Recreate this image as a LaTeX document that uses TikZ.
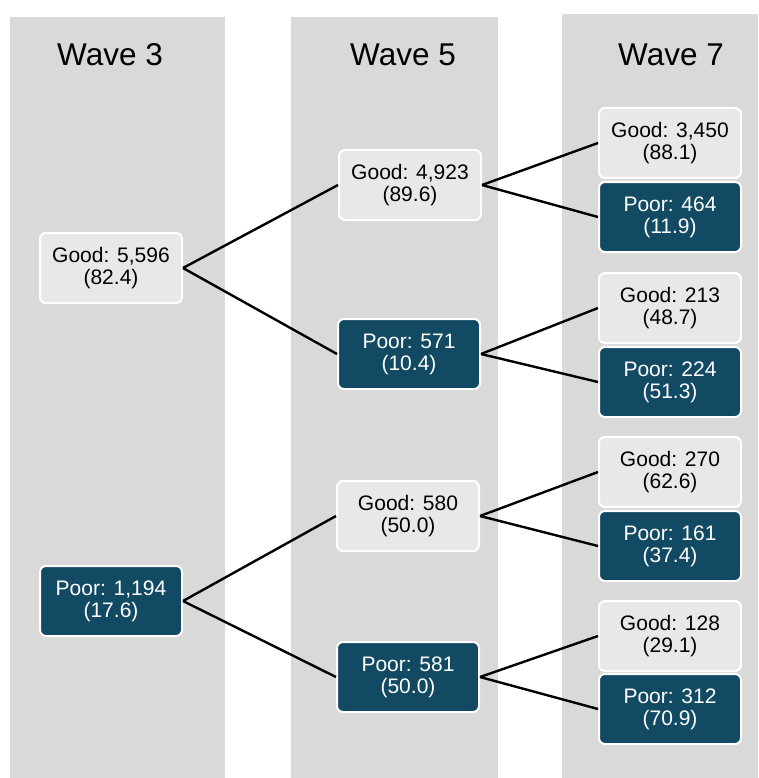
\documentclass[tikz,border=0pt]{standalone}
\usepackage{fontspec}
\setmainfont{Liberation Sans}
\definecolor{panel}{RGB}{217,217,217}
\definecolor{goodfill}{RGB}{232,232,232}
\definecolor{poorfill}{RGB}{18,74,99}
\tikzset{
  panelbox/.style={fill=panel, draw=none},
  wavetitle/.style={font=\fontsize{31.5}{34}\selectfont, text=black},
  goodbox/.style={draw=white, line width=2pt, fill=goodfill, rounded corners=6pt,
    minimum width=142pt, minimum height=70pt, align=center, inner sep=0pt,
    font=\fontsize{21}{22}\selectfont, text=black},
  poorbox/.style={goodbox, fill=poorfill, text=white},
  link/.style={draw=black, line width=2.4pt}
}
\begin{document}
\begin{tikzpicture}[x=1pt, y=-1pt]
\useasboundingbox (0,0) rectangle (759,778);
% column backgrounds
\fill[panelbox] (10,17) rectangle (225,778);
\fill[panelbox] (291,17) rectangle (498,778);
\fill[panelbox] (562,14) rectangle (758,778);
% headings
\node[wavetitle] (t3) at (110,55) {Wave 3};
\node[wavetitle] (t5) at (403,55) {Wave 5};
\node[wavetitle] (t7) at (671,55) {Wave 7};
% wave 3
\node[goodbox] (g3) at (111,268) {Good: 5,596\\(82.4)};
\node[poorbox] (p3) at (111,601) {Poor: 1,194\\(17.6)};
% wave 5
\node[goodbox] (gg5) at (410,185) {Good: 4,923\\(89.6)};
\node[poorbox] (gp5) at (409,354) {Poor: 571\\(10.4)};
\node[goodbox] (pg5) at (408,516) {Good: 580\\(50.0)};
\node[poorbox] (pp5) at (408,677) {Poor: 581\\(50.0)};
% wave 7
\node[goodbox] (ggg) at (670,143) {Good: 3,450\\(88.1)};
\node[poorbox] (ggp) at (670,217) {Poor: 464\\(11.9)};
\node[goodbox] (gpg) at (670,308) {Good: 213\\(48.7)};
\node[poorbox] (gpp) at (670,382) {Poor: 224\\(51.3)};
\node[goodbox] (pgg) at (670,472) {Good: 270\\(62.6)};
\node[poorbox] (pgp) at (670,546) {Poor: 161\\(37.4)};
\node[goodbox] (ppg) at (670,636) {Good: 128\\(29.1)};
\node[poorbox] (ppp) at (670,709) {Poor: 312\\(70.9)};
% branches
\draw[link] (g3.east) -- (gg5.west);
\draw[link] (g3.east) -- (gp5.west);
\draw[link] (p3.east) -- (pg5.west);
\draw[link] (p3.east) -- (pp5.west);
\draw[link] (gg5.east) -- (ggg.west);
\draw[link] (gg5.east) -- (ggp.west);
\draw[link] (gp5.east) -- (gpg.west);
\draw[link] (gp5.east) -- (gpp.west);
\draw[link] (pg5.east) -- (pgg.west);
\draw[link] (pg5.east) -- (pgp.west);
\draw[link] (pp5.east) -- (ppg.west);
\draw[link] (pp5.east) -- (ppp.west);
\end{tikzpicture}
\end{document}
